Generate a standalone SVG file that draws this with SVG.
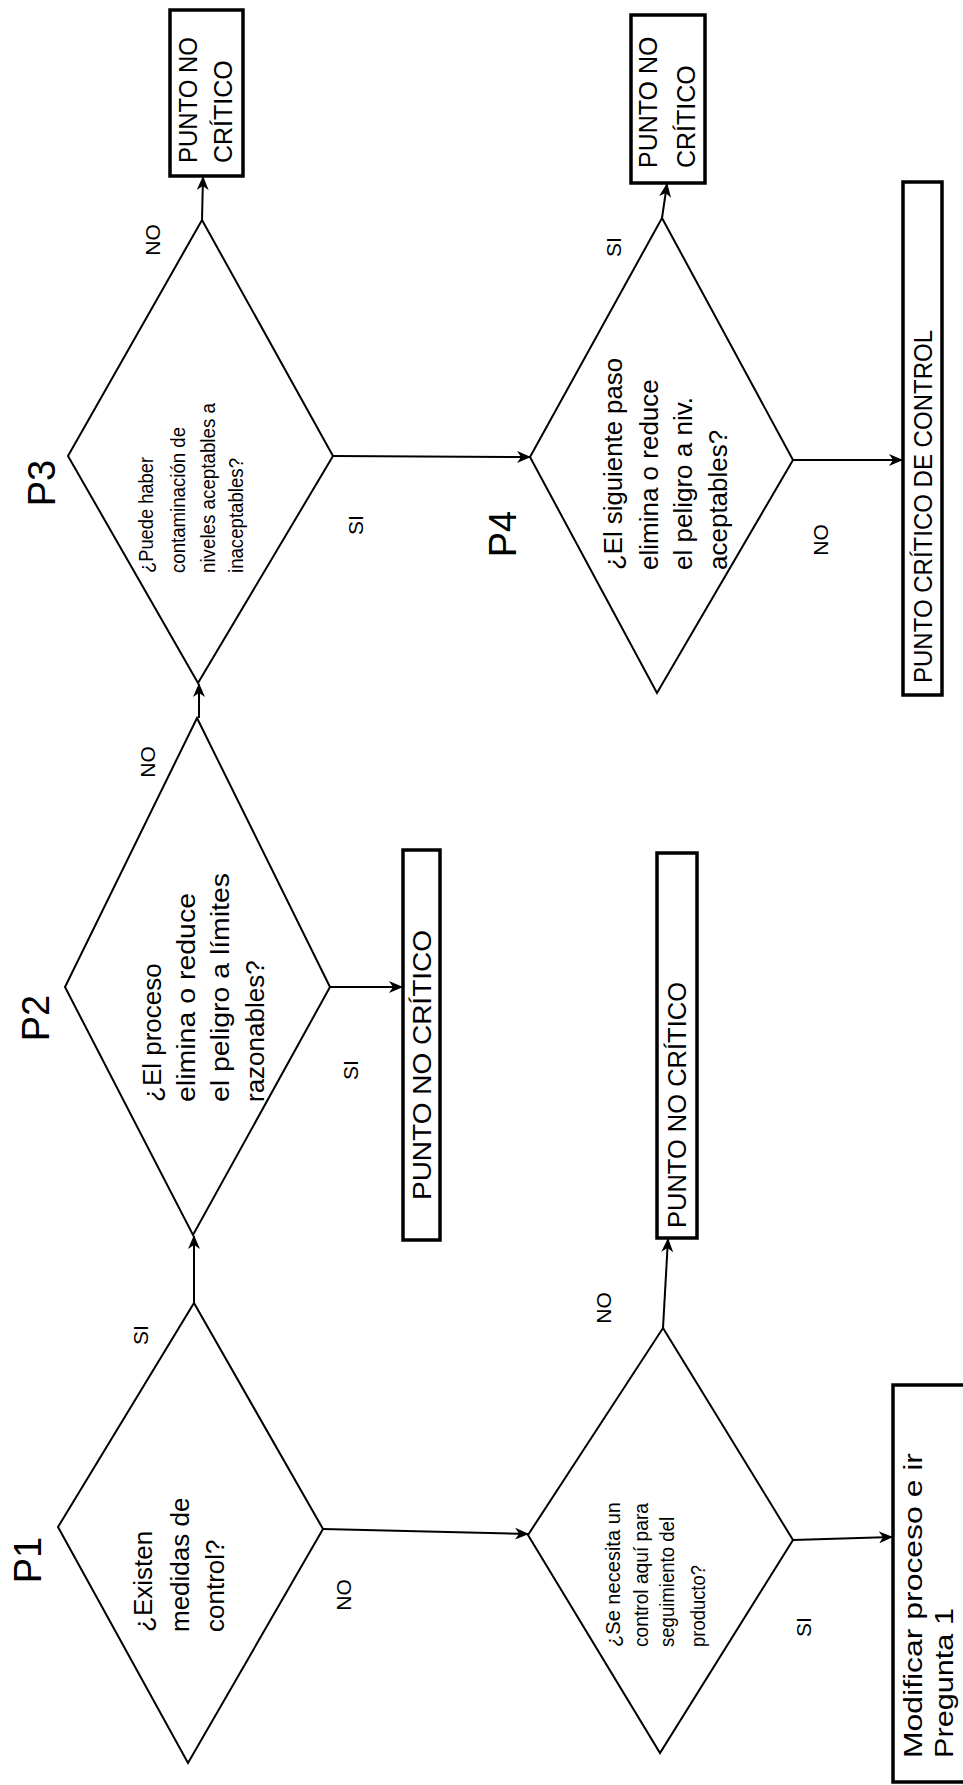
<svg xmlns="http://www.w3.org/2000/svg" width="963" height="1785" viewBox="0 0 963 1785">
<style>
text{font-family:"Liberation Sans",Arial,sans-serif;fill:#000;dominant-baseline:central}
.d{fill:#fff;stroke:#000;stroke-width:2}
.b{fill:#fff;stroke:#000;stroke-width:3.5}
.c{fill:none;stroke:#000;stroke-width:2}
.p{font-size:38px}
.q{font-size:26px}
.s{font-size:21px}
.k{font-size:25px}
.l{font-size:21px}
</style>
<defs>
<marker id="ah" markerUnits="userSpaceOnUse" markerWidth="14" markerHeight="12" refX="13" refY="6" orient="auto">
<path d="M0,0 L14,6 L0,12 L4,6 z" fill="#000"/>
</marker>
</defs>
<rect width="963" height="1785" fill="#fff"/>

<g id="connectors">
<path class="c" d="M194,1303 L194,1236" marker-end="url(#ah)"/>
<path class="c" d="M199,718 L199,684" marker-end="url(#ah)"/>
<path class="c" d="M202,220 L203,177" marker-end="url(#ah)"/>
<path class="c" d="M333,456 L530,457" marker-end="url(#ah)"/>
<path class="c" d="M662,218 L667,184" marker-end="url(#ah)"/>
<path class="c" d="M793,460 L902,460" marker-end="url(#ah)"/>
<path class="c" d="M330,987 L402,987" marker-end="url(#ah)"/>
<path class="c" d="M323,1529 L528,1534" marker-end="url(#ah)"/>
<path class="c" d="M663,1328 L668,1239" marker-end="url(#ah)"/>
<path class="c" d="M793,1540 L892,1537" marker-end="url(#ah)"/>
<g class="l">
<text transform="translate(140,1335) rotate(-90)" text-anchor="middle">SI</text>
<text transform="translate(343,1595) rotate(-90)" text-anchor="middle">NO</text>
<text transform="translate(350,1070) rotate(-90)" text-anchor="middle">SI</text>
<text transform="translate(147,762) rotate(-90)" text-anchor="middle">NO</text>
<text transform="translate(355,525) rotate(-90)" text-anchor="middle">SI</text>
<text transform="translate(152,240) rotate(-90)" text-anchor="middle">NO</text>
<text transform="translate(613,247) rotate(-90)" text-anchor="middle">SI</text>
<text transform="translate(820,540) rotate(-90)" text-anchor="middle">NO</text>
<text transform="translate(603,1308) rotate(-90)" text-anchor="middle">NO</text>
<text transform="translate(803,1627) rotate(-90)" text-anchor="middle">SI</text>
</g>
</g>

<g id="P1">
<polygon class="d" points="194,1303 323,1529 188,1763 58,1527"/>
<text class="p" transform="translate(28,1560) rotate(-90)" text-anchor="middle">P1</text>
<text class="q" transform="translate(143,1632) rotate(-90)">¿Existen</text>
<text class="q" transform="translate(180,1632) rotate(-90)">medidas de</text>
<text class="q" transform="translate(215,1632) rotate(-90)">control?</text>
</g>

<g id="P2">
<polygon class="d" points="197,718 330,987 193,1235 65,987"/>
<text class="p" transform="translate(36,1018) rotate(-90)" text-anchor="middle">P2</text>
<text class="q" transform="translate(152,1102) rotate(-90)">¿El proceso</text>
<text class="q" transform="translate(186,1102) rotate(-90)" textLength="209" lengthAdjust="spacingAndGlyphs">elimina o reduce</text>
<text class="q" transform="translate(220,1102) rotate(-90)" textLength="229" lengthAdjust="spacingAndGlyphs">el peligro a límites</text>
<text class="q" transform="translate(255,1102) rotate(-90)">razonables?</text>
</g>

<g id="P3">
<polygon class="d" points="202,220 333,456 198,683 68,456"/>
<text class="p" transform="translate(42,483) rotate(-90)" text-anchor="middle">P3</text>
<text class="s" transform="translate(145,573) rotate(-90)" textLength="116" lengthAdjust="spacingAndGlyphs">¿Puede haber</text>
<text class="s" transform="translate(177,573) rotate(-90)" textLength="146" lengthAdjust="spacingAndGlyphs">contaminación de</text>
<text class="s" transform="translate(207,573) rotate(-90)" textLength="170" lengthAdjust="spacingAndGlyphs">niveles aceptables a</text>
<text class="s" transform="translate(235,573) rotate(-90)" textLength="115" lengthAdjust="spacingAndGlyphs">inaceptables?</text>
</g>

<g id="P4">
<polygon class="d" points="662,218 793,460 657,693 530,457"/>
<text class="p" transform="translate(503,534) rotate(-90)" text-anchor="middle">P4</text>
<text class="q" transform="translate(613,570) rotate(-90)" textLength="212" lengthAdjust="spacingAndGlyphs">¿El siguiente paso</text>
<text class="q" transform="translate(649,570) rotate(-90)">elimina o reduce</text>
<text class="q" transform="translate(683,570) rotate(-90)">el peligro a niv.</text>
<text class="q" transform="translate(718,570) rotate(-90)">aceptables?</text>
</g>

<g id="P5">
<polygon class="d" points="663,1328 793,1540 660,1753 528,1535"/>
<text class="s" transform="translate(612,1647) rotate(-90)" textLength="145" lengthAdjust="spacingAndGlyphs">¿Se necesita un</text>
<text class="s" transform="translate(640,1647) rotate(-90)" textLength="144" lengthAdjust="spacingAndGlyphs">control aquí para</text>
<text class="s" transform="translate(666,1647) rotate(-90)" textLength="130" lengthAdjust="spacingAndGlyphs">seguimiento del</text>
<text class="s" transform="translate(697,1647) rotate(-90)" textLength="82" lengthAdjust="spacingAndGlyphs">producto?</text>
</g>

<g id="boxA">
<rect class="b" x="170" y="10" width="73" height="166"/>
<text class="k" transform="translate(188,163) rotate(-90)" textLength="126" lengthAdjust="spacingAndGlyphs">PUNTO NO</text>
<text class="k" transform="translate(223,163) rotate(-90)">CRÍTICO</text>
</g>

<g id="boxB">
<rect class="b" x="631" y="15" width="74" height="168"/>
<text class="k" transform="translate(648,168) rotate(-90)">PUNTO NO</text>
<text class="k" transform="translate(686,168) rotate(-90)">CRÍTICO</text>
</g>

<g id="boxC">
<rect class="b" x="903" y="182" width="39" height="513"/>
<text class="k" transform="translate(923,683) rotate(-90)" textLength="353" lengthAdjust="spacingAndGlyphs">PUNTO CRÍTICO DE CONTROL</text>
</g>

<g id="boxD">
<rect class="b" x="403" y="850" width="37" height="390"/>
<text class="k" transform="translate(422,1200) rotate(-90)" textLength="270" lengthAdjust="spacingAndGlyphs">PUNTO NO CRÍTICO</text>
</g>

<g id="boxE">
<rect class="b" x="657" y="853" width="40" height="385"/>
<text class="k" transform="translate(677,1228) rotate(-90)" textLength="246" lengthAdjust="spacingAndGlyphs">PUNTO NO CRÍTICO</text>
</g>

<g id="boxF">
<rect class="b" x="893" y="1385" width="80" height="397"/>
<text class="k" transform="translate(913,1758) rotate(-90)" textLength="305" lengthAdjust="spacingAndGlyphs">Modificar proceso e ir</text>
<text class="k" transform="translate(944,1758) rotate(-90)" textLength="150" lengthAdjust="spacingAndGlyphs">Pregunta 1</text>
</g>
</svg>
